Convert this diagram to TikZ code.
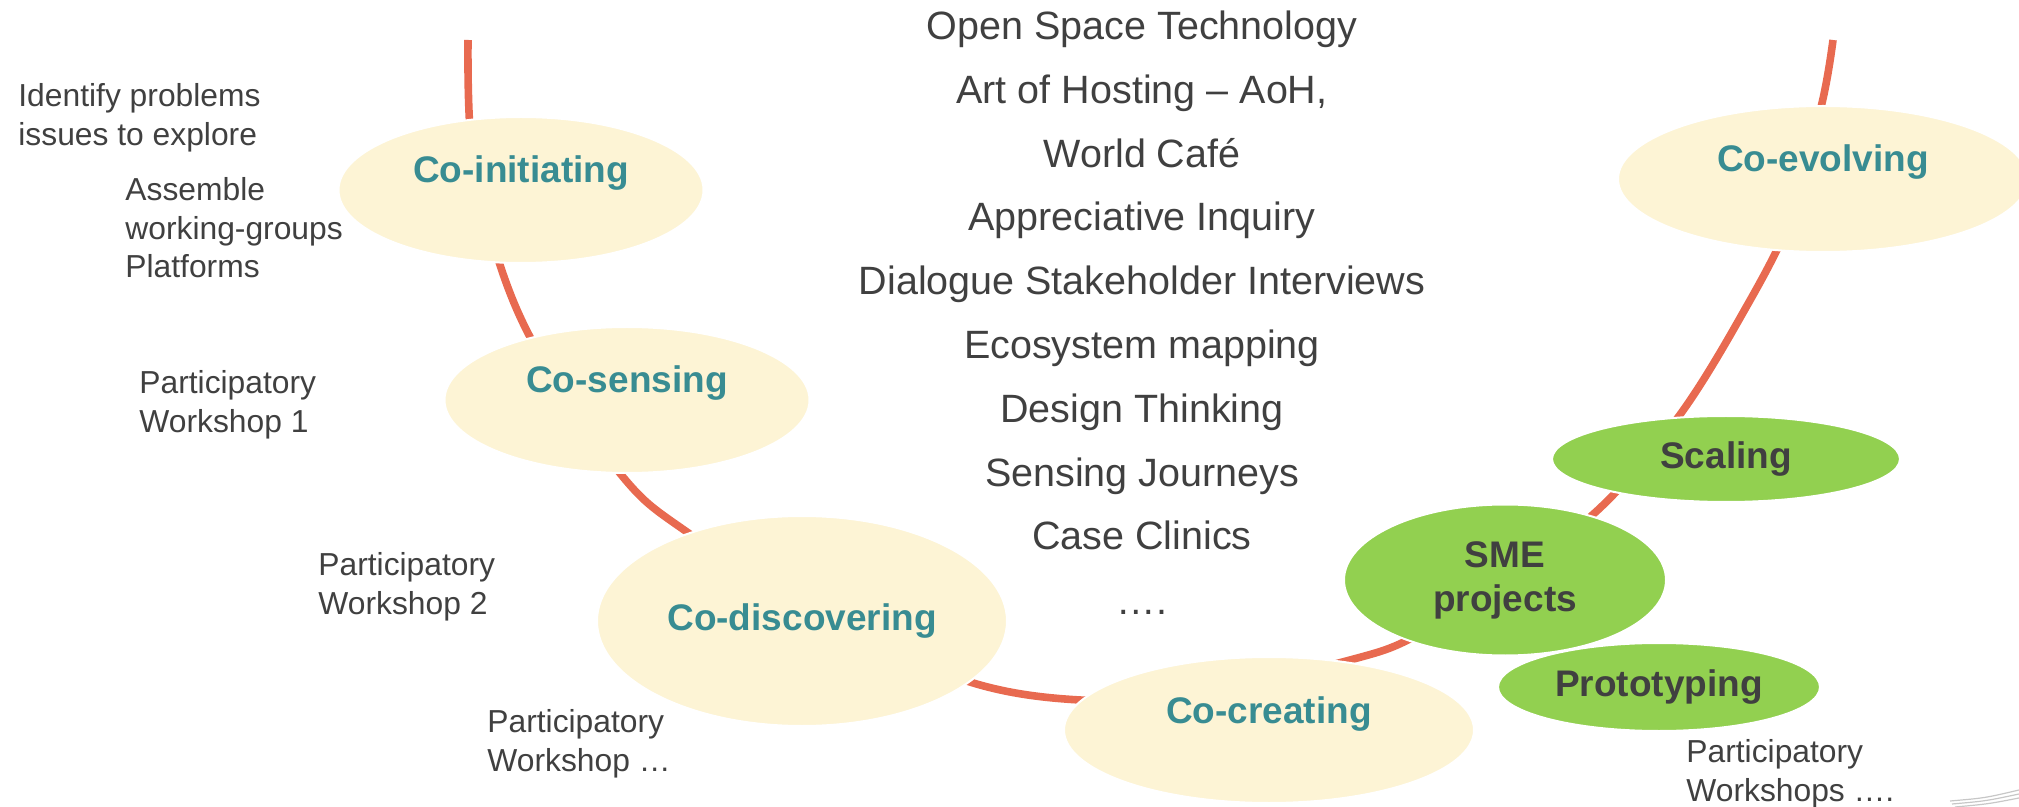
\documentclass[tikz,border=0pt]{standalone}
\usepackage{fontspec}
\setmainfont{Liberation Sans}
\usetikzlibrary{shapes.geometric}
\definecolor{spine}{RGB}{232,106,80}
\definecolor{cream}{RGB}{253,244,213}
\definecolor{leaf}{RGB}{146,208,80}
\definecolor{tealtxt}{RGB}{56,140,146}
\definecolor{ink}{RGB}{64,64,64}
\begin{document}
\begin{tikzpicture}[x=0.5pt,y=-0.5pt,
 stage/.style={ellipse,fill=cream,draw=white,line width=1pt,inner sep=0pt,
 text=tealtxt,font=\bfseries\fontsize{18.5}{22}\selectfont},
 lift/.style={text height=13.5pt,text depth=20.5pt},
 sprout/.style={ellipse,fill=leaf,draw=white,line width=1pt,inner sep=0pt,
 text=ink,align=center,font=\bfseries\fontsize{18.5}{22}\selectfont},
 tool/.style={anchor=base,text=ink,inner sep=0pt,font=\fontsize{19.75}{23}\selectfont},
 note/.style={anchor=west,align=left,text=ink,inner sep=0pt,font=\fontsize{15.9}{19.25}\selectfont}]

	\useasboundingbox (0,0) rectangle (2019,807);

	% U-shaped line behind the stages
	\draw[spine,line width=3.8pt] plot[smooth,tension=0.55] coordinates {(468,40) (472,150)
	 (500,265) (540,355) (623,477) (687,532) (830,622) (970,682) (1080,700) (1200,695)
	 (1350,660) (1412,638) (1500,585) (1600,508) (1679,416) (1740,318) (1790,220)
	 (1822,103) (1833,40)};

	\node[stage,lift,minimum width=182.5pt,minimum height=73pt] (init) at (521,190) {Co-initiating};
	\node[stage,lift,minimum width=182.5pt,minimum height=73pt] (sense) at (627,400) {Co-sensing};
	\node[stage,minimum width=205pt,minimum height=105pt] (disc) at (802,621) {Co-discovering};
	\node[stage,lift,minimum width=205pt,minimum height=73pt] (create) at (1269,730) {Co-creating};
	\node[stage,lift,minimum width=205pt,minimum height=73pt] (evolve) at (1823,179) {Co-evolving};

	\node[sprout,minimum width=161pt,minimum height=44pt] (proto) at (1659,687) {Prototyping};
	\node[sprout,minimum width=161pt,minimum height=75.5pt] (sme) at (1505,580) {SME\\projects};
	\node[sprout,minimum width=174pt,minimum height=43pt] (scale) at (1726,459) {Scaling};

	\node[tool] (t1) at (1142,40) {Open Space Technology};
	\node[tool] (t2) at (1142,104) {Art of Hosting – AoH,};
	\node[tool] (t3) at (1142,168) {World Café};
	\node[tool] (t4) at (1142,231) {Appreciative Inquiry};
	\node[tool] (t5) at (1142,295) {Dialogue Stakeholder Interviews};
	\node[tool] (t6) at (1142,359) {Ecosystem mapping};
	\node[tool] (t7) at (1142,423) {Design Thinking};
	\node[tool] (t8) at (1142,487) {Sensing Journeys};
	\node[tool] (t9) at (1142,550) {Case Clinics};
	\node[tool] (t10) at (1142,614) {….};

	\node[note] (n1) at (18,118) {Identify problems\\issues to explore};
	\node[note] (n2) at (125,228) {Assemble\\working-groups\\Platforms};
	\node[note] (n3) at (139,405) {Participatory\\Workshop 1};
	\node[note] (n4) at (318,587) {Participatory\\Workshop 2};
	\node[note] (n5) at (487,744) {Participatory\\Workshop …};
	\node[note] (n6) at (1686,774) {Participatory\\Workshops ….};

	% corner swoosh
	\draw[black!22,line width=0.6pt] (1950,801) .. controls (1985,798) .. (2019,790);
	\draw[black!22,line width=0.6pt] (1952,804) .. controls (1986,801) .. (2019,794);
	\draw[black!22,line width=0.6pt] (1955,807) .. controls (1988,804) .. (2019,798);
\end{tikzpicture}
\end{document}
